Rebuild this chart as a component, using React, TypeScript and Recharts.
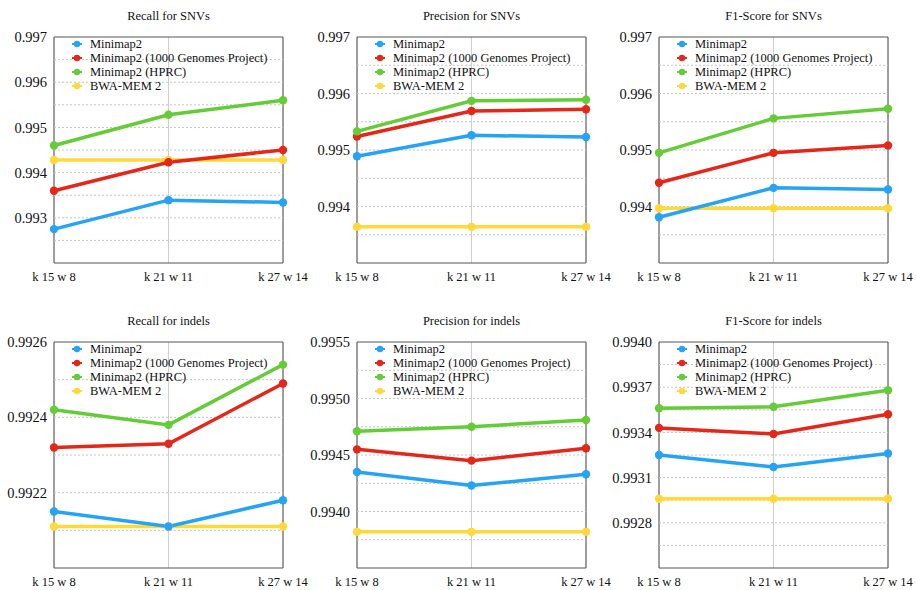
import React from "react";
import {
  LineChart,
  Line,
  XAxis,
  YAxis,
  CartesianGrid,
  ReferenceLine,
  ReferenceArea,
} from "recharts";

const categories = ["k 15 w 8", "k 21 w 11", "k 27 w 14"];

const seriesNames = [
  "Minimap2",
  "Minimap2 (1000 Genomes Project)",
  "Minimap2 (HPRC)",
  "BWA-MEM 2",
];
const seriesColors = ["#25A3F4", "#E5271A", "#63CC36", "#FFD83A"];

// Recall for SNVs
const recallSnvMinimap2 = [0.99275, 0.99339, 0.99334];
const recallSnv1kg = [0.9936, 0.99423, 0.9945];
const recallSnvHprc = [0.9946, 0.99528, 0.9956];
const recallSnvBwa = [0.99428, 0.99428, 0.99428];

// Precision for SNVs
const precisionSnvMinimap2 = [0.99489, 0.99526, 0.99523];
const precisionSnv1kg = [0.99524, 0.99569, 0.99572];
const precisionSnvHprc = [0.99533, 0.99587, 0.99589];
const precisionSnvBwa = [0.99364, 0.99364, 0.99364];

// F1-Score for SNVs
const f1SnvMinimap2 = [0.99381, 0.99433, 0.9943];
const f1Snv1kg = [0.99442, 0.99495, 0.99508];
const f1SnvHprc = [0.99495, 0.99556, 0.99573];
const f1SnvBwa = [0.99397, 0.99397, 0.99397];

// Recall for indels
const recallIndelMinimap2 = [0.99215, 0.99211, 0.99218];
const recallIndel1kg = [0.99232, 0.99233, 0.99249];
const recallIndelHprc = [0.99242, 0.99238, 0.99254];
const recallIndelBwa = [0.99211, 0.99211, 0.99211];

// Precision for indels
const precisionIndelMinimap2 = [0.99435, 0.99423, 0.99433];
const precisionIndel1kg = [0.99455, 0.99445, 0.99456];
const precisionIndelHprc = [0.99471, 0.99475, 0.99481];
const precisionIndelBwa = [0.99382, 0.99382, 0.99382];

// F1-Score for indels
const f1IndelMinimap2 = [0.99325, 0.99317, 0.99326];
const f1Indel1kg = [0.99343, 0.99339, 0.99352];
const f1IndelHprc = [0.99356, 0.99357, 0.99368];
const f1IndelBwa = [0.99296, 0.99296, 0.99296];

// Axes
const snvRecallDomain = [0.992, 0.997];
const snvRecallTicks = [0.993, 0.994, 0.995, 0.996, 0.997];
const snvRecallGrid = [0.9925, 0.993, 0.9935, 0.994, 0.9945, 0.995, 0.9955, 0.996, 0.9965];

const snvDomain = [0.993, 0.997];
const snvTicks = [0.994, 0.995, 0.996, 0.997];
const snvGrid = [0.9935, 0.994, 0.9945, 0.995, 0.9955, 0.996, 0.9965];

const recallIndelDomain = [0.992, 0.9926];
const recallIndelTicks = [0.9922, 0.9924, 0.9926];
const recallIndelGrid = [0.9921, 0.9922, 0.9923, 0.9924, 0.9925];

const precisionIndelDomain = [0.9935, 0.9955];
const precisionIndelTicks = [0.994, 0.9945, 0.995, 0.9955];
const precisionIndelGrid = [0.99375, 0.994, 0.99425, 0.9945, 0.99475, 0.995, 0.99525];

const f1IndelDomain = [0.9925, 0.994];
const f1IndelTicks = [0.9928, 0.9931, 0.9934, 0.9937, 0.994];
const f1IndelGrid = [0.99265, 0.9928, 0.99295, 0.9931, 0.99325, 0.9934, 0.99355, 0.9937, 0.99385];

const FONT = "'Liberation Serif', 'Times New Roman', serif";
const CHART_W = 330;

function buildRows(series: number[][]) {
  return categories.map((cat, i) => ({
    cat,
    s0: series[0][i],
    s1: series[1][i],
    s2: series[2][i],
    s3: series[3][i],
  }));
}

const LegendBox = () => (
  <div
    style={{
      position: "absolute",
      left: 70,
      top: 37,
      fontFamily: FONT,
      fontSize: 12.5,
      color: "#111",
      lineHeight: "14px",
      pointerEvents: "none",
    }}
  >
    {seriesNames.map((n, i) => (
      <div key={n} style={{ display: "flex", alignItems: "center", height: 14, whiteSpace: "nowrap" }}>
        <svg width={14} height={10} style={{ marginRight: 6, display: "block" }}>
          <line x1={2} y1={5} x2={12} y2={5} stroke={seriesColors[i]} strokeWidth={2} />
          <circle cx={7} cy={5} r={3.2} fill={seriesColors[i]} />
        </svg>
        <span>{n}</span>
      </div>
    ))}
  </div>
);

type PanelProps = {
  title: string;
  left: number;
  top: number;
  series: number[][];
  domain: number[];
  ticks: number[];
  grid: number[];
  digits: number;
};

const Panel = ({ title, left, top, series, domain, ticks, grid, digits }: PanelProps) => {
  const data = buildRows(series);
  const drawOrder = [3, 0, 1, 2];
  return (
    <div style={{ position: "absolute", left, top, width: CHART_W, height: 290 }}>
      <div
        style={{
          position: "absolute",
          left: 54,
          top: 8,
          width: 229,
          textAlign: "center",
          fontFamily: FONT,
          fontSize: 12.5,
          color: "#111",
          lineHeight: "16px",
        }}
      >
        {title}
      </div>
      <div style={{ position: "absolute", left: 0, top: 0 }}>
        <LineChart width={CHART_W} height={290} data={data} margin={{ top: 37, right: CHART_W - 283, left: 4, bottom: 7 }}>
          <CartesianGrid horizontal={false} vertical stroke="#cfcfcf" strokeWidth={1} />
          {grid.map((g) => (
            <ReferenceLine key={g} y={g} stroke="#c4c4c4" strokeDasharray="2 2" strokeWidth={1} />
          ))}
          <XAxis
            dataKey="cat"
            type="category"
            interval={0}
            padding={{ left: 0, right: 0 }}
            axisLine={false}
            tickLine={false}
            tickSize={0}
            tickMargin={9}
            height={20}
            tick={{ fontFamily: FONT, fontSize: 12.5, fill: "#111" }}
          />
          <YAxis
            type="number"
            domain={domain}
            ticks={ticks}
            interval={0}
            allowDataOverflow
            axisLine={false}
            tickLine={false}
            tickSize={0}
            tickMargin={7}
            width={50}
            tickFormatter={(v: number) => v.toFixed(digits)}
            tick={{ fontFamily: FONT, fontSize: 14.5, fill: "#111" }}
          />
          <ReferenceArea
            x1={categories[0]}
            x2={categories[categories.length - 1]}
            y1={domain[0]}
            y2={domain[1]}
            fill="none"
            fillOpacity={0}
            stroke="#555"
            strokeWidth={1}
          />
          {drawOrder.map((i) => (
            <Line
              key={i}
              dataKey={`s${i}`}
              name={seriesNames[i]}
              stroke={seriesColors[i]}
              strokeWidth={3.5}
              dot={{ r: 4.2, fill: seriesColors[i], stroke: seriesColors[i], strokeWidth: 0 }}
              activeDot={false}
              isAnimationActive={false}
            />
          ))}
        </LineChart>
      </div>
      <LegendBox />
    </div>
  );
};

export default function App() {
  return (
    <div
      style={{
        position: "absolute",
        left: 0,
        top: 0,
        width: 916,
        height: 590,
        background: "#fff",
        overflow: "hidden",
      }}
    >
      <Panel
        title="Recall for SNVs"
        left={0}
        top={0}
        series={[recallSnvMinimap2, recallSnv1kg, recallSnvHprc, recallSnvBwa]}
        domain={snvRecallDomain}
        ticks={snvRecallTicks}
        grid={snvRecallGrid}
        digits={3}
      />
      <Panel
        title="Precision for SNVs"
        left={303}
        top={0}
        series={[precisionSnvMinimap2, precisionSnv1kg, precisionSnvHprc, precisionSnvBwa]}
        domain={snvDomain}
        ticks={snvTicks}
        grid={snvGrid}
        digits={3}
      />
      <Panel
        title="F1-Score for SNVs"
        left={605}
        top={0}
        series={[f1SnvMinimap2, f1Snv1kg, f1SnvHprc, f1SnvBwa]}
        domain={snvDomain}
        ticks={snvTicks}
        grid={snvGrid}
        digits={3}
      />
      <Panel
        title="Recall for indels"
        left={0}
        top={305}
        series={[recallIndelMinimap2, recallIndel1kg, recallIndelHprc, recallIndelBwa]}
        domain={recallIndelDomain}
        ticks={recallIndelTicks}
        grid={recallIndelGrid}
        digits={4}
      />
      <Panel
        title="Precision for indels"
        left={303}
        top={305}
        series={[precisionIndelMinimap2, precisionIndel1kg, precisionIndelHprc, precisionIndelBwa]}
        domain={precisionIndelDomain}
        ticks={precisionIndelTicks}
        grid={precisionIndelGrid}
        digits={4}
      />
      <Panel
        title="F1-Score for indels"
        left={605}
        top={305}
        series={[f1IndelMinimap2, f1Indel1kg, f1IndelHprc, f1IndelBwa]}
        domain={f1IndelDomain}
        ticks={f1IndelTicks}
        grid={f1IndelGrid}
        digits={4}
      />
    </div>
  );
}
